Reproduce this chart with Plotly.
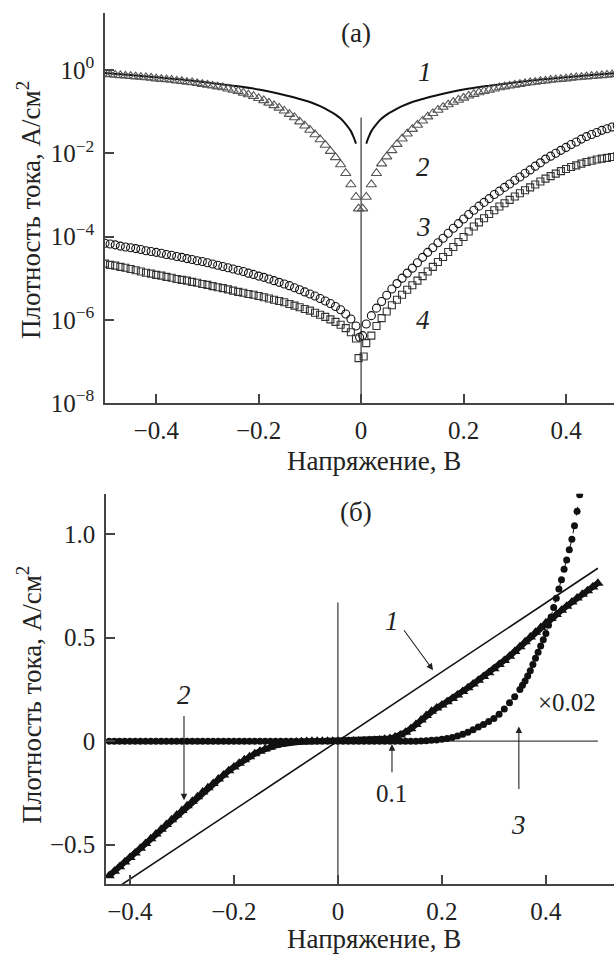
import numpy as np
import plotly.graph_objects as go

# ---------------- Panel (a): log scale ----------------
V_a_neg = np.round(np.arange(-0.50, -0.005, 0.01), 2)   # -0.50 ... -0.01
V_a_pos = np.round(np.arange(0.01, 0.505, 0.01), 2)     #  0.01 ...  0.50

# curve 1 (solid line)
V1_neg = [-0.50, -0.45, -0.40, -0.35, -0.30, -0.25, -0.20, -0.15, -0.12, -0.10, -0.08, -0.06, -0.05, -0.04, -0.03, -0.02, -0.015, -0.01]
J1_neg = [0.85, 0.76, 0.67, 0.59, 0.50, 0.42, 0.34, 0.25, 0.20, 0.17, 0.135, 0.10, 0.085, 0.068, 0.05, 0.034, 0.025, 0.017]
V1_pos = [0.01, 0.015, 0.02, 0.03, 0.04, 0.05, 0.06, 0.08, 0.10, 0.12, 0.15, 0.20, 0.25, 0.30, 0.35, 0.40, 0.45, 0.50]
J1_pos = [0.017, 0.025, 0.034, 0.05, 0.068, 0.085, 0.10, 0.135, 0.17, 0.20, 0.25, 0.34, 0.42, 0.50, 0.59, 0.67, 0.76, 0.85]

# curve 2 (triangles), log10 of J
log_j2_neg = [-0.10, -0.11, -0.12, -0.13, -0.14, -0.15, -0.16, -0.17, -0.18, -0.19,
              -0.21, -0.22, -0.23, -0.24, -0.26, -0.27, -0.29, -0.30, -0.32, -0.34,
              -0.36, -0.38, -0.40, -0.42, -0.45, -0.48, -0.51, -0.55, -0.59, -0.63,
              -0.68, -0.73, -0.79, -0.85, -0.91, -0.98, -1.06, -1.14, -1.24, -1.34,
              -1.44, -1.55, -1.67, -1.80, -1.95, -2.10, -2.27, -2.48, -2.75, -3.05]
log_j2_pos = [-3.05, -2.75, -2.48, -2.25, -2.08, -1.93, -1.78, -1.65, -1.53, -1.42,
              -1.32, -1.22, -1.12, -1.04, -0.96, -0.89, -0.83, -0.77, -0.72, -0.67,
              -0.62, -0.58, -0.54, -0.51, -0.48, -0.45, -0.42, -0.40, -0.38, -0.36,
              -0.34, -0.32, -0.30, -0.29, -0.27, -0.26, -0.24, -0.23, -0.22, -0.21,
              -0.19, -0.18, -0.17, -0.16, -0.15, -0.14, -0.13, -0.12, -0.11, -0.10]
V2_zero = [-0.005, 0.003]
log_j2_zero = [-3.33, -3.33]

# curve 3 (circles)
log_j3_neg = [-4.16, -4.18, -4.20, -4.23, -4.25, -4.27, -4.29, -4.31, -4.34, -4.36,
              -4.38, -4.40, -4.43, -4.45, -4.48, -4.50, -4.53, -4.55, -4.58, -4.60,
              -4.63, -4.66, -4.69, -4.72, -4.75, -4.78, -4.81, -4.84, -4.88, -4.91,
              -4.95, -4.98, -5.02, -5.06, -5.10, -5.14, -5.18, -5.23, -5.28, -5.33,
              -5.38, -5.43, -5.49, -5.55, -5.61, -5.68, -5.76, -5.86, -5.98, -6.15]
log_j3_pos = [-6.10, -5.90, -5.72, -5.56, -5.41, -5.26, -5.13, -5.00, -4.88, -4.76,
              -4.63, -4.50, -4.38, -4.27, -4.15, -4.04, -3.92, -3.80, -3.69, -3.58,
              -3.47, -3.37, -3.27, -3.18, -3.09, -2.99, -2.91, -2.82, -2.74, -2.65,
              -2.57, -2.48, -2.40, -2.31, -2.23, -2.14, -2.07, -2.00, -1.93, -1.86,
              -1.79, -1.73, -1.66, -1.60, -1.55, -1.50, -1.45, -1.41, -1.37, -1.34]
V3_zero = [-0.003, 0.003]
log_j3_zero = [-6.42, -6.38]

# curve 4 (squares)
log_j4_neg = [-4.65, -4.68, -4.70, -4.73, -4.75, -4.78, -4.81, -4.84, -4.87, -4.89,
              -4.92, -4.94, -4.97, -4.99, -5.02, -5.04, -5.06, -5.09, -5.11, -5.14,
              -5.16, -5.19, -5.22, -5.24, -5.27, -5.30, -5.33, -5.35, -5.38, -5.40,
              -5.43, -5.46, -5.49, -5.52, -5.55, -5.58, -5.62, -5.66, -5.70, -5.74,
              -5.78, -5.83, -5.88, -5.93, -5.99, -6.05, -6.12, -6.20, -6.30, -6.45]
log_j4_pos = [-6.56, -6.38, -6.15, -5.96, -5.80, -5.65, -5.52, -5.40, -5.28, -5.17,
              -5.06, -4.95, -4.84, -4.73, -4.61, -4.49, -4.37, -4.25, -4.13, -4.01,
              -3.88, -3.76, -3.66, -3.56, -3.46, -3.37, -3.28, -3.20, -3.12, -3.04,
              -2.96, -2.89, -2.82, -2.75, -2.68, -2.61, -2.55, -2.49, -2.43, -2.38,
              -2.33, -2.29, -2.25, -2.21, -2.18, -2.15, -2.13, -2.11, -2.09, -2.07]
V4_zero = [-0.005, 0.005]
log_j4_zero = [-6.92, -6.88]

a_tickvals = [1e0, 1e-2, 1e-4, 1e-6, 1e-8]
a_ticktext = ["10<sup>0</sup>", "10<sup>−2</sup>", "10<sup>−4</sup>", "10<sup>−6</sup>", "10<sup>−8</sup>"]

# ---------------- Panel (б): linear scale ----------------
V_b = np.round(np.arange(-0.44, 0.505, 0.01), 2)   # -0.44 ... 0.50
j2_b = [-0.650, -0.628, -0.606, -0.584, -0.562, -0.540, -0.517, -0.494, -0.471, -0.448,
        -0.425, -0.403, -0.380, -0.357, -0.335, -0.312, -0.290, -0.268, -0.246, -0.225,
        -0.204, -0.183, -0.163, -0.143, -0.125, -0.107, -0.090, -0.075, -0.061, -0.049,
        -0.038, -0.029, -0.021, -0.015, -0.010, -0.007, -0.005, -0.003, -0.002, -0.001,
        -0.001, 0.0, 0.0, 0.0, 0.0,
        0.0, 0.0, 0.001, 0.001, 0.002, 0.003, 0.004, 0.006, 0.009, 0.013,
        0.020, 0.030, 0.043, 0.060, 0.080, 0.102, 0.124, 0.145, 0.160, 0.175,
        0.190, 0.206, 0.223, 0.240, 0.258, 0.276, 0.294, 0.312, 0.330, 0.350,
        0.370, 0.390, 0.410, 0.433, 0.456, 0.480, 0.503, 0.526, 0.549, 0.572,
        0.592, 0.612, 0.632, 0.652, 0.672, 0.691, 0.709, 0.727, 0.745, 0.763]

V3_b = list(np.round(np.arange(-0.44, 0.345, 0.01), 2)) + list(np.round(np.arange(0.35, 0.4725, 0.005), 3))
j3_b = [0.0] * 60 + [0.001, 0.002, 0.004, 0.006, 0.009, 0.013, 0.018, 0.025, 0.033, 0.043,
                     0.055, 0.068, 0.080, 0.095, 0.110, 0.130, 0.155, 0.185, 0.215] + \
       [0.25, 0.27, 0.29, 0.315, 0.34, 0.37, 0.40, 0.43, 0.46, 0.49,
        0.52, 0.56, 0.60, 0.645, 0.69, 0.735, 0.78, 0.83, 0.875, 0.925,
        0.975, 1.04, 1.11, 1.19, 1.28]

V1_b = [-0.45, 0.50]
J1_b = [-0.75, 0.835]

b_tickvals = [-0.5, 0, 0.5, 1.0]
b_ticktext = ["−0.5", "0", "0.5", "1.0"]
x_tickvals = [-0.4, -0.2, 0, 0.2, 0.4]
x_ticktext = ["−0.4", "−0.2", "0", "0.2", "0.4"]

FONT = "Liberation Serif"
INK = "#222222"
AX = "#444444"
TICK_SIZE = 25
TITLE_SIZE = 27
LABEL_SIZE = 27

fig = go.Figure()

# ---- panel (a) traces
fig.add_trace(go.Scatter(x=[0, 0], y=[1e-8, 0.072], mode="lines",
                         line=dict(color=AX, width=1.3), xaxis="x", yaxis="y", showlegend=False))
fig.add_trace(go.Scatter(x=V1_neg + [None] + V1_pos, y=J1_neg + [None] + J1_pos, mode="lines",
                         line=dict(color="#111111", width=2, shape="spline"), connectgaps=False,
                         xaxis="x", yaxis="y", showlegend=False))
V2_all = list(V_a_neg) + V2_zero + list(V_a_pos)
fig.add_trace(go.Scatter(x=V2_all, y=[10 ** v for v in log_j2_neg + log_j2_zero + log_j2_pos], mode="markers",
                         marker=dict(symbol="triangle-up-open", size=9, color="#555555", line=dict(width=1.1)),
                         xaxis="x", yaxis="y", showlegend=False))
V3_all = list(V_a_neg) + V3_zero + list(V_a_pos)
fig.add_trace(go.Scatter(x=V3_all, y=[10 ** v for v in log_j3_neg + log_j3_zero + log_j3_pos], mode="markers",
                         marker=dict(symbol="circle-open", size=8, color="#111111", line=dict(width=1.1)),
                         xaxis="x", yaxis="y", showlegend=False))
V4_all = list(V_a_neg) + V4_zero + list(V_a_pos)
fig.add_trace(go.Scatter(x=V4_all, y=[10 ** v for v in log_j4_neg + log_j4_zero + log_j4_pos], mode="markers",
                         marker=dict(symbol="square-open", size=7, color="#333333", line=dict(width=1.1)),
                         xaxis="x", yaxis="y", showlegend=False))

# ---- panel (б) traces
fig.add_trace(go.Scatter(x=[0, 0], y=[-0.7, 0.67], mode="lines",
                         line=dict(color=AX, width=1.3), xaxis="x2", yaxis="y2", showlegend=False))
fig.add_trace(go.Scatter(x=[-0.45, 0.5], y=[0, 0], mode="lines",
                         line=dict(color=AX, width=1.3), xaxis="x2", yaxis="y2", showlegend=False))
fig.add_trace(go.Scatter(x=V1_b, y=J1_b, mode="lines",
                         line=dict(color="#111111", width=1.6), xaxis="x2", yaxis="y2", showlegend=False))
fig.add_trace(go.Scatter(x=list(V_b), y=j2_b, mode="lines+markers",
                         line=dict(color="#111111", width=6),
                         marker=dict(symbol="triangle-up", size=10, color="#111111"),
                         xaxis="x2", yaxis="y2", showlegend=False))
fig.add_trace(go.Scatter(x=V3_b, y=j3_b, mode="lines+markers",
                         line=dict(color="#111111", width=1, dash="dash"),
                         marker=dict(symbol="circle", size=7, color="#111111"),
                         xaxis="x2", yaxis="y2", showlegend=False))

W, H = 614, 967
def px(xp):
    return xp / W
def py(yp):
    return (H - yp) / H

axis_common = dict(showline=True, linecolor=AX, linewidth=1.5, ticks="inside", ticklen=9,
                   tickwidth=1.5, tickcolor=AX, showgrid=False, zeroline=False, mirror=False,
                   tickfont=dict(family=FONT, size=TICK_SIZE, color=INK))

fig.update_layout(
    width=W, height=H, margin=dict(l=0, r=0, t=0, b=0),
    paper_bgcolor="white", plot_bgcolor="white",
    xaxis=dict(domain=[px(105), 1], range=[-0.5, 0.4937], anchor="y",
               tickvals=x_tickvals, ticktext=x_ticktext, ticklabelstandoff=4, **axis_common),
    yaxis=dict(domain=[py(409), py(13)], type="log", range=[-8, 1.373], anchor="x",
               tickvals=a_tickvals, ticktext=a_ticktext, ticklabelstandoff=4, **axis_common),
    xaxis2=dict(domain=[px(106), 1], range=[-0.446, 0.531], anchor="y2",
                tickvals=x_tickvals, ticktext=x_ticktext, ticklabelstandoff=4, **axis_common),
    yaxis2=dict(domain=[py(897), py(501)], range=[-0.690, 1.195], anchor="x2",
                tickvals=b_tickvals, ticktext=b_ticktext, ticklabelstandoff=4, **axis_common),
)

ann = []
def txt(x, y, t, xref, yref, size=LABEL_SIZE, italic=False, angle=0):
    ann.append(dict(x=x, y=y, xref=xref, yref=yref, text=t, showarrow=False, textangle=angle,
                    font=dict(family=FONT, size=size, color=INK,
                              style="italic" if italic else "normal"),
                    xanchor="center", yanchor="middle"))

def arrow(x0, y0, x1, y1):
    ann.append(dict(x=x1, y=y1, ax=x0, ay=y0, xref="x2", yref="y2", axref="x2", ayref="y2",
                    text="", showarrow=True, arrowhead=2, arrowsize=1.2, arrowwidth=1.1,
                    arrowcolor="#222222"))

# axis titles
for ytitle in [468, 953]:
    txt(px(374), py(ytitle), "Напряжение, В", "paper", "paper", size=TITLE_SIZE)
txt(px(29), py(213), "Плотность тока, А/см<sup>2</sup>", "paper", "paper", size=TITLE_SIZE, angle=-90)
txt(px(29), py(705), "Плотность тока, А/см<sup>2</sup>", "paper", "paper", size=TITLE_SIZE, angle=-90)

# panel (a) labels (log axis -> log10 coords)
txt(-0.01, 0.9, "(a)", "x", "y")
txt(0.125, -0.05, "1", "x", "y", italic=True)
txt(0.121, -2.34, "2", "x", "y", italic=True)
txt(0.121, -3.76, "3", "x", "y", italic=True)
txt(0.121, -6.01, "4", "x", "y", italic=True)

# panel (б) labels
txt(0.035, 1.105, "(б)", "x2", "y2")
txt(0.104, 0.58, "1", "x2", "y2", italic=True)
arrow(0.125, 0.543, 0.183, 0.343)
txt(-0.296, 0.224, "2", "x2", "y2", italic=True)
arrow(-0.296, 0.129, -0.296, -0.286)
txt(0.104, -0.252, "0.1", "x2", "y2", size=25)
arrow(0.104, -0.157, 0.104, -0.014)
txt(0.348, -0.405, "3", "x2", "y2", italic=True)
arrow(0.348, -0.238, 0.348, 0.071)
txt(0.44, 0.186, "×0.02", "x2", "y2", size=25)

fig.update_layout(annotations=ann)
fig.write_html("out.html", config={"displayModeBar": False},
               post_script="document.body.style.margin='0';document.body.style.overflow='hidden';")
